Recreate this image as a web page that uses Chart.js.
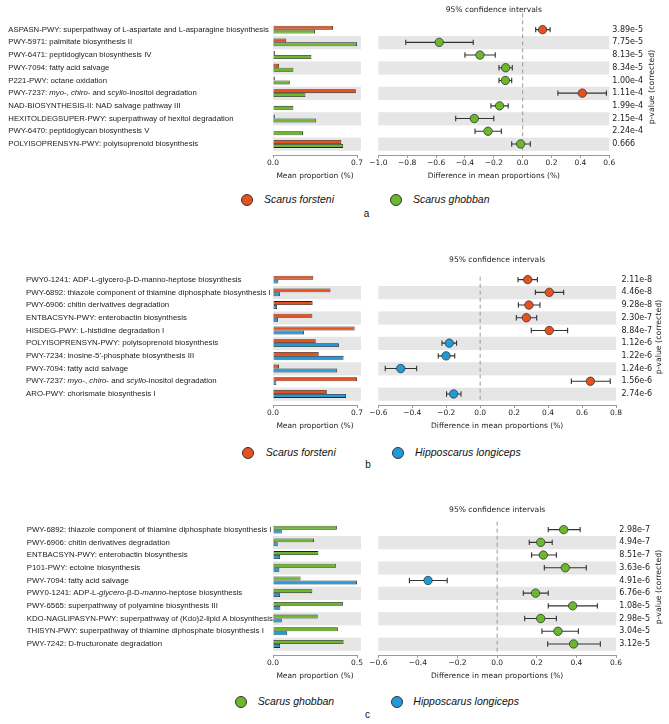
<!DOCTYPE html>
<html>
<head>
<meta charset="utf-8">
<script src="https://cdn.jsdelivr.net/npm/chart.js@4.4.1/dist/chart.umd.min.js"></script>
<style>
	body { margin: 0; background: #fff; width: 669px; height: 724px; overflow: hidden; position: relative; }
	.panel { position: absolute; left: 0; width: 669px; height: 250px; }
	.box { position: absolute; top: 0; height: 190px; }
	.bars { left: 0; width: 366px; }
	.diff { left: 366px; width: 303px; }
	.dot { position: absolute; width: 10px; height: 10px; border-radius: 50%; border: 1px solid #333; }
	.name { position: absolute; font: italic 10.5px "Liberation Sans", Arial, sans-serif; color: #111; white-space: nowrap; }
	.letter { position: absolute; font: 10px "Liberation Sans", Arial, sans-serif; color: #111; }
</style>
</head>
<body>

<div class="panel" id="panel-a" style="top:0px">
	<div class="box bars"><canvas id="bars-a"></canvas></div>
	<div class="box diff"><canvas id="diff-a"></canvas></div>
</div>
<div class="panel" id="panel-b" style="top:250px">
	<div class="box bars"><canvas id="bars-b"></canvas></div>
	<div class="box diff"><canvas id="diff-b"></canvas></div>
</div>
<div class="panel" id="panel-c" style="top:500px">
	<div class="box bars"><canvas id="bars-c"></canvas></div>
	<div class="box diff"><canvas id="diff-c"></canvas></div>
</div>

<script>
// |------------|
// |   Données   |
// |------------|

const ORANGE = '#e8501e'
const GREEN = '#6cb82c'
const BLUE = '#219bd8'

// Panneau a : Scarus forsteni vs Scarus ghobban
const aPathways = [
	'ASPASN-PWY: superpathway of L-aspartate and L-asparagine biosynthesis',
	'PWY-5971: palmitate biosynthesis II',
	'PWY-6471: peptidoglycan biosynthesis IV',
	'PWY-7094: fatty acid salvage',
	'P221-PWY: octane oxidation',
	'PWY-7237: *myo*-, *chiro*- and *scyllo*-inositol degradation',
	'NAD-BIOSYNTHESIS-II: NAD salvage pathway III',
	'HEXITOLDEGSUPER-PWY: superpathway of hexitol degradation',
	'PWY-6470: peptidoglycan biosynthesis V',
	'POLYISOPRENSYN-PWY: polyisoprenoid biosynthesis'
]
const aForsteni = [0.50, 0.11, 0.015, 0.05, 0.015, 0.69, 0.003, 0.015, 0.002, 0.57]
const aGhobban = [0.35, 0.70, 0.32, 0.17, 0.14, 0.27, 0.17, 0.36, 0.25, 0.585]
const aDiff = [0.138, -0.578, -0.296, -0.118, -0.12, 0.413, -0.16, -0.335, -0.24, -0.014]
const aLow = [0.09, -0.81, -0.40, -0.164, -0.164, 0.244, -0.22, -0.464, -0.33, -0.076]
const aHigh = [0.19, -0.342, -0.19, -0.072, -0.076, 0.58, -0.10, -0.20, -0.148, 0.053]
const aPvalues = ['3.89e-5', '7.75e-5', '8.13e-5', '8.34e-5', '1.00e-4', '1.11e-4', '1.99e-4', '2.15e-4', '2.24e-4', '0.666']
const aBarTicks = [0, 0.7]
const aDiffTicks = [-1.0, -0.8, -0.6, -0.4, -0.2, 0.0, 0.2, 0.4, 0.6]

// Panneau b : Scarus forsteni vs Hipposcarus longiceps
const bPathways = [
	'PWY0-1241: ADP-L-glycero-β-D-manno-heptose biosynthesis',
	'PWY-6892: thiazole component of thiamine diphosphate biosynthesis I',
	'PWY-6906: chitin derivatives degradation',
	'ENTBACSYN-PWY: enterobactin biosynthesis',
	'HISDEG-PWY: L-histidine degradation I',
	'POLYISOPRENSYN-PWY: polyisoprenoid biosynthesis',
	"PWY-7234: inosine-5'-phosphate biosynthesis III",
	'PWY-7094: fatty acid salvage',
	'PWY-7237: *myo*-, *chiro*- and *scyllo*-inositol degradation',
	'ARO-PWY: chorismate biosynthesis I'
]
const bForsteni = [0.336, 0.479, 0.33, 0.328, 0.68, 0.356, 0.381, 0.05, 0.70, 0.448]
const bLongiceps = [0.045, 0.059, 0.034, 0.042, 0.258, 0.549, 0.588, 0.535, 0.028, 0.608]
const bDiff = [0.28, 0.407, 0.287, 0.272, 0.407, -0.182, -0.201, -0.468, 0.649, -0.156]
const bLow = [0.223, 0.325, 0.225, 0.213, 0.301, -0.225, -0.247, -0.559, 0.537, -0.198]
const bHigh = [0.337, 0.492, 0.352, 0.333, 0.515, -0.139, -0.15, -0.374, 0.766, -0.113]
const bPvalues = ['2.11e-8', '4.46e-8', '9.28e-8', '2.30e-7', '8.84e-7', '1.12e-6', '1.22e-6', '1.24e-6', '1.56e-6', '2.74e-6']
const bBarTicks = [0, 0.7]
const bDiffTicks = [-0.6, -0.4, -0.2, 0.0, 0.2, 0.4, 0.6, 0.8]

// Panneau c : Scarus ghobban vs Hipposcarus longiceps
const cPathways = [
	'PWY-6892: thiazole component of thiamine diphosphate biosynthesis I',
	'PWY-6906: chitin derivatives degradation',
	'ENTBACSYN-PWY: enterobactin biosynthesis',
	'P101-PWY: ectoine biosynthesis',
	'PWY-7094: fatty acid salvage',
	'PWY0-1241: ADP-L-*glycero*-β-D-*manno*-heptose biosynthesis',
	'PWY-6565: superpathway of polyamine biosynthesis III',
	'KDO-NAGLIPASYN-PWY: superpathway of (Kdo)2-lipid A biosynthesis',
	'THISYN-PWY: superpathway of thiamine diphosphate biosynthesis I',
	'PWY-7242: D-fructuronate degradation'
]
const cGhobban = [0.38, 0.244, 0.27, 0.376, 0.164, 0.234, 0.416, 0.266, 0.386, 0.42]
const cLongiceps = [0.052, 0.028, 0.042, 0.038, 0.50, 0.042, 0.044, 0.052, 0.084, 0.042]
const cDiff = [0.336, 0.22, 0.233, 0.344, -0.349, 0.194, 0.381, 0.22, 0.307, 0.386]
const cLow = [0.258, 0.162, 0.174, 0.238, -0.443, 0.132, 0.258, 0.139, 0.226, 0.255]
const cHigh = [0.419, 0.278, 0.299, 0.45, -0.252, 0.258, 0.506, 0.299, 0.41, 0.521]
const cPvalues = ['2.98e-7', '4.94e-7', '8.51e-7', '3.63e-6', '4.91e-6', '6.76e-6', '1.08e-5', '2.98e-5', '3.04e-5', '3.12e-5']
const cBarTicks = [0, 0.5]
const cDiffTicks = [-0.6, -0.4, -0.2, 0.0, 0.2, 0.4, 0.6]


// |--------------|
// |   Chart.js   |
// |--------------|

Chart.defaults.font.family = '"DejaVu Sans", sans-serif'
Chart.defaults.color = '#222'

const LABEL_FONT = '"Liberation Sans", Arial, sans-serif'
const AXIS_FONT = '"DejaVu Sans", sans-serif'
const ROW_MAX = 9.87 // petite marge sous la dernière ligne

function tick_text(v) {
	let s = Math.abs(v) < 1e-9 ? '0.0' : v.toFixed(1)
	return s.replace('-', '\u2212')
}

// Bandes grises une ligne sur deux
const rowBands = {
	id: 'rowBands',
	beforeDatasetsDraw(chart, args, opts) {
		const ctx = chart.ctx
		const area = chart.chartArea
		const y = chart.scales.y
		ctx.save()
		ctx.fillStyle = '#e6e6e6'
		for (let i = 1; i < opts.rows; i += 2) {
			const top = y.getPixelForValue(i - 0.5)
			const bottom = y.getPixelForValue(i + 0.5)
			ctx.fillRect(area.left, top, area.right - area.left + (opts.extra || 0), bottom - top + 0.5)
		}
		ctx.restore()
	}
}

// Noms des voies métaboliques (avec parties en italique entre *)
const pathwayLabels = {
	id: 'pathwayLabels',
	afterDraw(chart, args, opts) {
		const ctx = chart.ctx
		const y = chart.scales.y
		ctx.save()
		ctx.fillStyle = '#1a1a1a'
		ctx.textBaseline = 'middle'
		opts.labels.forEach((label, i) => {
			let x = opts.x
			const py = y.getPixelForValue(i)
			label.split('*').forEach((part, k) => {
				ctx.font = (k % 2 ? 'italic ' : '') + opts.size + 'px ' + LABEL_FONT
				ctx.fillText(part, x, py)
				x += ctx.measureText(part).width
			})
		})
		ctx.restore()
	}
}

// Intervalles de confiance et ligne du zéro
const errorBars = {
	id: 'errorBars',
	beforeDatasetsDraw(chart, args, opts) {
		const ctx = chart.ctx
		const area = chart.chartArea
		const xs = chart.scales.x
		const ys = chart.scales.y
		ctx.save()
		const x0 = xs.getPixelForValue(0)
		ctx.strokeStyle = '#9a9a9a'
		ctx.lineWidth = 1
		ctx.setLineDash([4, 3])
		ctx.beginPath()
		ctx.moveTo(x0, opts.zeroTop)
		ctx.lineTo(x0, area.bottom - 3)
		ctx.stroke()
		ctx.setLineDash([])
		ctx.strokeStyle = '#333'
		ctx.lineWidth = 1.1
		opts.low.forEach((lo, i) => {
			const py = ys.getPixelForValue(i)
			const xl = xs.getPixelForValue(lo)
			const xh = xs.getPixelForValue(opts.high[i])
			ctx.beginPath()
			ctx.moveTo(xl, py); ctx.lineTo(xh, py)
			ctx.moveTo(xl, py - 2.7); ctx.lineTo(xl, py + 2.7)
			ctx.moveTo(xh, py - 2.7); ctx.lineTo(xh, py + 2.7)
			ctx.stroke()
		})
		ctx.restore()
	},
	afterDraw(chart, args, opts) {
		const ctx = chart.ctx
		const area = chart.chartArea
		ctx.save()
		ctx.fillStyle = '#222'
		ctx.font = '7.6px ' + AXIS_FONT
		ctx.textAlign = 'center'
		ctx.textBaseline = 'middle'
		ctx.fillText('95% confidence intervals', (area.left + area.right) / 2, 10)
		ctx.font = '7.8px ' + AXIS_FONT
		ctx.translate(area.right + 42.5, 87)
		ctx.rotate(-Math.PI / 2)
		ctx.fillText('p-value (corrected)', 0, 0)
		ctx.restore()
	}
}

function bottom_axis(ticks, title, min, max) {
	return {
		type: 'linear',
		min: min,
		max: max,
		afterBuildTicks: (s) => { s.ticks = ticks.map((v) => ({ value: v })) },
		afterFit: (s) => { s.height = 35 },
		ticks: {
			autoSkip: false,
			maxRotation: 0,
			padding: 1,
			font: { size: 7.5, family: AXIS_FONT, lineHeight: 1.2 },
			color: '#222',
			callback: (v) => tick_text(v)
		},
		grid: { drawOnChartArea: false, drawTicks: true, tickLength: 3, color: '#9a9a9a' },
		border: { display: true, color: '#9a9a9a', width: 1 },
		title: {
			display: true,
			text: title,
			font: { size: 7.5, family: AXIS_FONT, lineHeight: 1.2 },
			color: '#222',
			padding: { top: 0, bottom: 9.5 }
		}
	}
}

// Graphique des proportions moyennes
function display_bars(id, labels, labelX, labelSize, first, second, colors, ticks) {
	const rows = labels.length
	new Chart(document.getElementById(id), {
		type: 'bar',
		data: {
			datasets: [
				{
					data: first.map((v, i) => ({ x: v, y: i })),
					backgroundColor: colors[0],
					borderColor: '#222',
					borderWidth: 0.8,
					borderSkipped: false
				},
				{
					data: second.map((v, i) => ({ x: v, y: i })),
					backgroundColor: colors[1],
					borderColor: '#222',
					borderWidth: 0.8,
					borderSkipped: false
				}
			]
		},
		options: {
			indexAxis: 'y',
			animation: false,
			events: [],
			responsive: true,
			maintainAspectRatio: false,
			categoryPercentage: 0.62,
			barPercentage: 1.0,
			layout: { padding: { left: 273, right: 9, top: 23.3, bottom: 0 } },
			plugins: {
				legend: { display: false },
				tooltip: { enabled: false },
				rowBands: { rows: rows, extra: 4 },
				pathwayLabels: { labels: labels, x: labelX, size: labelSize }
			},
			scales: {
				x: bottom_axis(ticks, 'Mean proportion (%)', ticks[0], ticks[ticks.length - 1]),
				y: { type: 'linear', display: false, offset: false, reverse: true, min: -0.5, max: ROW_MAX }
			}
		},
		plugins: [rowBands, pathwayLabels]
	})
}

// Graphique des différences avec intervalles de confiance
function display_diff(id, diff, low, high, pvalues, colors, ticks, axisWidth, labelPad, zeroTop) {
	new Chart(document.getElementById(id), {
		type: 'scatter',
		data: {
			datasets: [{
				data: diff.map((v, i) => ({ x: v, y: i })),
				pointBackgroundColor: diff.map((v) => v > 0 ? colors[0] : colors[1]),
				pointBorderColor: '#333',
				pointBorderWidth: 0.8,
				pointRadius: 4.2
			}]
		},
		options: {
			animation: false,
			events: [],
			responsive: true,
			maintainAspectRatio: false,
			layout: { padding: { left: 12.3, right: 0, top: 23.3, bottom: 0 } },
			plugins: {
				legend: { display: false },
				tooltip: { enabled: false },
				rowBands: { rows: diff.length, extra: 0 },
				errorBars: { low: low, high: high, zeroTop: zeroTop }
			},
			scales: {
				x: bottom_axis(ticks, 'Difference in mean proportions (%)', ticks[0], ticks[ticks.length - 1]),
				y: {
					type: 'linear',
					position: 'right',
					offset: false,
					reverse: true,
					min: -0.5,
					max: ROW_MAX,
					afterBuildTicks: (s) => { s.ticks = pvalues.map((p, i) => ({ value: i })) },
					afterFit: (s) => { s.width = axisWidth },
					ticks: {
						autoSkip: false,
						padding: labelPad,
						font: { size: 8, family: AXIS_FONT },
						color: '#222',
						callback: (v) => pvalues[Math.round(v)]
					},
					grid: { display: false, drawTicks: false },
					border: { display: false }
				}
			}
		},
		plugins: [rowBands, errorBars]
	})
}

// Légende HTML sous chaque panneau
function display_legend(panelId, items, y, letter, letterX, letterY) {
	const panel = document.getElementById(panelId)
	items.forEach((it) => {
		panel.insertAdjacentHTML('beforeend',
			`<div class="dot" style="left:${it.dot - 6}px; top:${y - 6}px; background:${it.color}"></div>
			<div class="name" style="left:${it.text}px; top:${y - 7}px">${it.name}</div>`)
	})
	panel.insertAdjacentHTML('beforeend', `<div class="letter" style="left:${letterX - 3}px; top:${letterY - 6}px">${letter}</div>`)
}

display_bars('bars-a', aPathways, 8.3, 7.75, aForsteni, aGhobban, [ORANGE, GREEN], aBarTicks)
display_diff('diff-a', aDiff, aLow, aHigh, aPvalues, [ORANGE, GREEN], aDiffTicks, 59.7, 3, 13.3)
display_legend('panel-a', [
	{ name: 'Scarus forsteni', color: ORANGE, dot: 246.7, text: 264 },
	{ name: 'Scarus ghobban', color: GREEN, dot: 395.7, text: 413 }
], 200, 'a', 366.7, 214)

display_bars('bars-b', bPathways, 26, 7.85, bForsteni, bLongiceps, [ORANGE, BLUE], bBarTicks)
display_diff('diff-b', bDiff, bLow, bHigh, bPvalues, [ORANGE, BLUE], bDiffTicks, 53, 5.5, 26.7)
display_legend('panel-b', [
	{ name: 'Scarus forsteni', color: ORANGE, dot: 248.3, text: 265.7 },
	{ name: 'Hipposcarus longiceps', color: BLUE, dot: 398, text: 415 }
], 202.7, 'b', 368.3, 215)

display_bars('bars-c', cPathways, 26.7, 7.85, cGhobban, cLongiceps, [GREEN, BLUE], cBarTicks)
display_diff('diff-c', cDiff, cLow, cHigh, cPvalues, [GREEN, BLUE], cDiffTicks, 53, 3.3, 21.7)
display_legend('panel-c', [
	{ name: 'Scarus ghobban', color: GREEN, dot: 240.7, text: 257.7 },
	{ name: 'Hipposcarus longiceps', color: BLUE, dot: 397.3, text: 413.3 }
], 201.7, 'c', 368, 215)
</script>
</body>
</html>
